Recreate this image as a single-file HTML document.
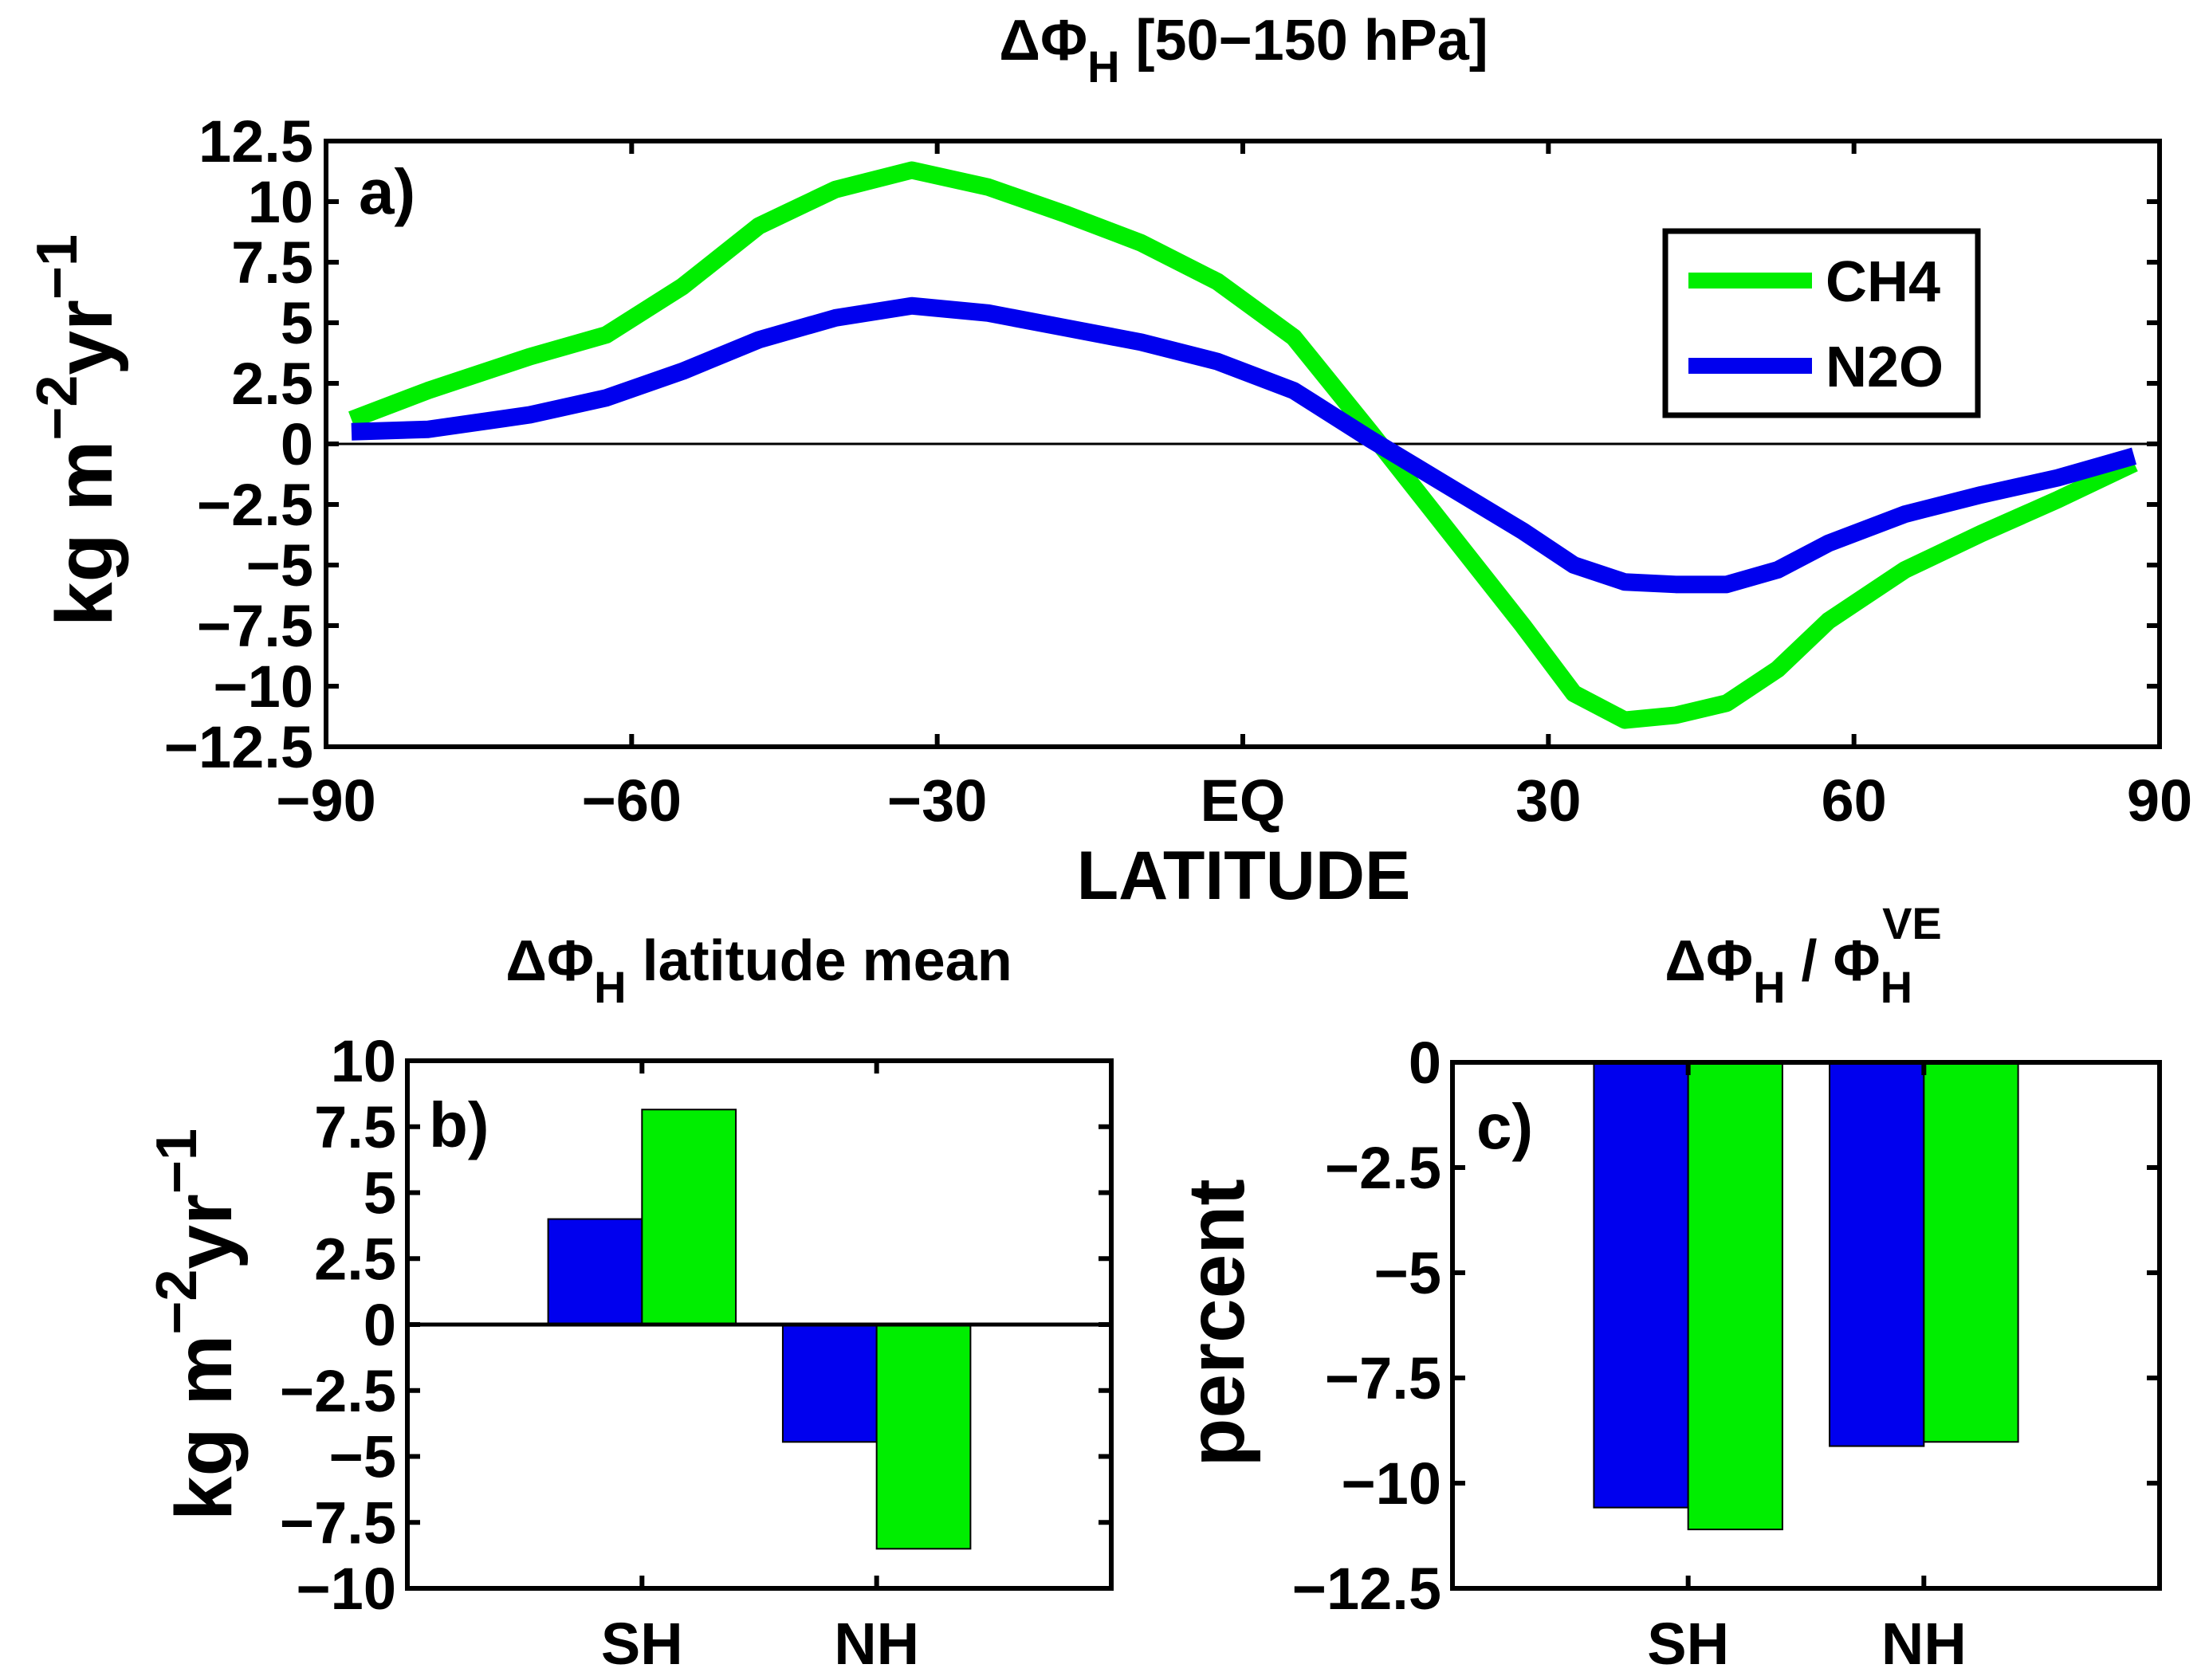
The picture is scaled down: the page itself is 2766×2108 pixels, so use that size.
<!DOCTYPE html>
<html><head><meta charset="utf-8"><style>
html,body{margin:0;padding:0;background:#fff;}
svg{display:block;font-family:"Liberation Sans",sans-serif;font-weight:bold;}
</style></head><body>
<svg id="chart" width="2766" height="2108" viewBox="0 0 2766 2108" xmlns="http://www.w3.org/2000/svg">
<g id="pa"></g>
<g id="pb"></g>
<g id="pc"></g>
</svg>
<script>
const lats = [-87.5,-80,-70,-62.5,-55,-47.5,-40,-32.5,-25,-17.5,-10,-2.5,5,12.5,20,27.5,32.5,37.5,42.5,47.5,52.5,57.5,65,72.5,80,87.5];
const ch4 = [1.0,2.2,3.6,4.5,6.5,9.0,10.5,11.3,10.6,9.5,8.3,6.7,4.4,0.5,-3.5,-7.5,-10.3,-11.4,-11.2,-10.7,-9.3,-7.3,-5.2,-3.7,-2.3,-0.8];
const n2o = [0.5,0.6,1.2,1.9,3.0,4.3,5.2,5.7,5.4,4.8,4.2,3.4,2.2,0.2,-1.7,-3.6,-5.0,-5.7,-5.8,-5.8,-5.2,-4.1,-2.9,-2.1,-1.4,-0.5];
const aYTicks = [12.5,10,7.5,5,2.5,0,-2.5,-5,-7.5,-10,-12.5];
const aXTicks = [-90,-60,-30,0,30,60,90];
const aXLabels = ["-90","-60","-30","EQ","30","60","90"];
const regions = ["SH","NH"];
const meanN2O = [4.0,-4.45];
const meanCH4 = [8.15,-8.5];
const bYTicks = [10,7.5,5,2.5,0,-2.5,-5,-7.5,-10];
const pctN2O = [-10.58,-9.12];
const pctCH4 = [-11.1,-9.02];
const cYTicks = [0,-2.5,-5,-7.5,-10,-12.5];

const NS="http://www.w3.org/2000/svg";
const GREEN="#00ee00", BLUE="#0000ee";
function mk(parent,tag,attrs){const e=document.createElementNS(NS,tag);for(const k in attrs)e.setAttribute(k,attrs[k]);parent.appendChild(e);return e;}
function fmt(v){return (v<0?"\u2212":"")+String(Math.abs(v));}
function txt(parent,x,y,s,size,anchor,name){const t=mk(parent,'text',{x:x,y:y,'font-size':size,'text-anchor':anchor||'middle',fill:'#000'});t.textContent=s;


return t;}
function frame(g,L,R,T,B){const r=mk(g,'rect',{x:L,y:T,width:R-L,height:B-T,fill:'none',stroke:'#000','stroke-width':6});

}

// Panel a
(function(){
const g=document.getElementById('pa');
const L=409,R=2709,T=177,B=937;
const x=v=>L+(v+90)/180*(R-L);
const y=v=>T+(12.5-v)/25*(B-T);
for(let i=0;i<aYTicks.length;i++){const v=aYTicks[i];
 mk(g,'line',{x1:L,x2:L+16,y1:y(v),y2:y(v),stroke:'#000','stroke-width':6});
 mk(g,'line',{x1:R-16,x2:R,y1:y(v),y2:y(v),stroke:'#000','stroke-width':6});
 txt(g,L-16,y(v)+26,fmt(v),74,'end','y-tick-label');}
for(let i=0;i<aXTicks.length;i++){const v=aXTicks[i];
 mk(g,'line',{x1:x(v),x2:x(v),y1:B,y2:B-16,stroke:'#000','stroke-width':6});
 mk(g,'line',{x1:x(v),x2:x(v),y1:T,y2:T+16,stroke:'#000','stroke-width':6});
 txt(g,x(v),1030,aXLabels[i].replace('-','\u2212'),74,'middle','x-tick-label');}
const zl=mk(g,'line',{x1:L,x2:R,y1:y(0),y2:y(0),stroke:'#000','stroke-width':3});


function line(vals,col,name){const p=mk(g,'polyline',{points:lats.map((la,i)=>x(la)+','+y(vals[i])).join(' '),fill:'none',stroke:col,'stroke-width':22,'stroke-linejoin':'round'});

}
line(ch4,GREEN,'ch4-line');
line(n2o,BLUE,'n2o-line');
frame(g,L,R,T,B);
txt(g,450,268,'a)',80,'start','panel-label-a');
const lg=mk(g,'g',{});


mk(lg,'rect',{x:2089,y:290,width:392,height:231,fill:'#fff',stroke:'#000','stroke-width':7});
mk(lg,'line',{x1:2118,x2:2273,y1:352,y2:352,stroke:GREEN,'stroke-width':20});
mk(lg,'line',{x1:2118,x2:2273,y1:459,y2:459,stroke:BLUE,'stroke-width':20});
txt(lg,2290,378,'CH4',72,'start','legend-entry-ch4');
txt(lg,2290,485,'N2O',72,'start','legend-entry-n2o');
const tt=txt(g,1560,75,'',72,'middle','title-a');
tt.innerHTML='\u0394\u03A6<tspan font-size="56" dy="28">H</tspan><tspan dy="-28"> [50\u2212150 hPa]</tspan>';
txt(g,1560,1128,'LATITUDE',86,'middle','x-axis-title');
const yl=txt(g,0,0,'',100,'middle','y-axis-title-a');
yl.setAttribute('transform','translate(140,540) rotate(-90)');
yl.innerHTML='kg m<tspan font-size="72" dy="-44">\u22122</tspan><tspan dy="44">yr</tspan><tspan font-size="72" dy="-44">\u22121</tspan>';
})();

function barPanel(id,L,R,T,B,ymax,ymin,ticks,n2oV,ch4V,lbl,lblx){
const g=document.getElementById(id);
const x=v=>L+v/3*(R-L);
const y=v=>T+(ymax-v)/(ymax-ymin)*(B-T);
for(let i=0;i<regions.length;i++){
 const c=i+1;
 const r1=mk(g,'rect',{x:x(c-0.4),y:Math.min(y(0),y(n2oV[i])),width:x(0.4)-x(0),height:Math.abs(y(n2oV[i])-y(0)),fill:BLUE,stroke:'#000','stroke-width':2});
 
 
 const r2=mk(g,'rect',{x:x(c),y:Math.min(y(0),y(ch4V[i])),width:x(0.4)-x(0),height:Math.abs(y(ch4V[i])-y(0)),fill:GREEN,stroke:'#000','stroke-width':2});
 
 
 mk(g,'line',{x1:x(c),x2:x(c),y1:B,y2:B-16,stroke:'#000','stroke-width':6});
 mk(g,'line',{x1:x(c),x2:x(c),y1:T,y2:T+16,stroke:'#000','stroke-width':6});
 txt(g,x(c),2088,regions[i],74,'middle','x-tick-label');}
for(let i=0;i<ticks.length;i++){const v=ticks[i];
 mk(g,'line',{x1:L,x2:L+16,y1:y(v),y2:y(v),stroke:'#000','stroke-width':6});
 mk(g,'line',{x1:R-16,x2:R,y1:y(v),y2:y(v),stroke:'#000','stroke-width':6});
 txt(g,L-14,y(v)+26,fmt(v),74,'end','y-tick-label');}
if(ymax>0&&ymin<0){mk(g,'line',{x1:L,x2:R,y1:y(0),y2:y(0),stroke:'#000','stroke-width':5});}
frame(g,L,R,T,B);
txt(g,lblx,T+108,lbl,80,'start','panel-label');
return g;}

const gb=barPanel('pb',511,1394,1331,1993,10,-10,bYTicks,meanN2O,meanCH4,'b)',538);
const tb=txt(gb,952,1230,'',72,'middle','title-b');
tb.innerHTML='\u0394\u03A6<tspan font-size="56" dy="28">H</tspan><tspan dy="-28"> latitude mean</tspan>';
const ylb=txt(gb,0,0,'',100,'middle','y-axis-title-b');
ylb.setAttribute('transform','translate(290,1662) rotate(-90)');
ylb.innerHTML='kg m<tspan font-size="72" dy="-44">\u22122</tspan><tspan dy="44">yr</tspan><tspan font-size="72" dy="-44">\u22121</tspan>';

const gc=barPanel('pc',1822,2709,1333,1993,0,-12.5,cYTicks,pctN2O,pctCH4,'c)',1852);
const tc=txt(gc,2262,1230,'',72,'middle','title-c');
tc.innerHTML='\u0394\u03A6<tspan font-size="56" dy="28">H</tspan><tspan dy="-28"> / \u03A6</tspan><tspan font-size="56" dy="28">H</tspan><tspan font-size="56" dx="-38" dy="-80">VE</tspan>';
const ylc=txt(gc,0,0,'percent',100,'middle','y-axis-title-c');
ylc.setAttribute('transform','translate(1560,1660) rotate(-90)');
</script>
</body></html>
